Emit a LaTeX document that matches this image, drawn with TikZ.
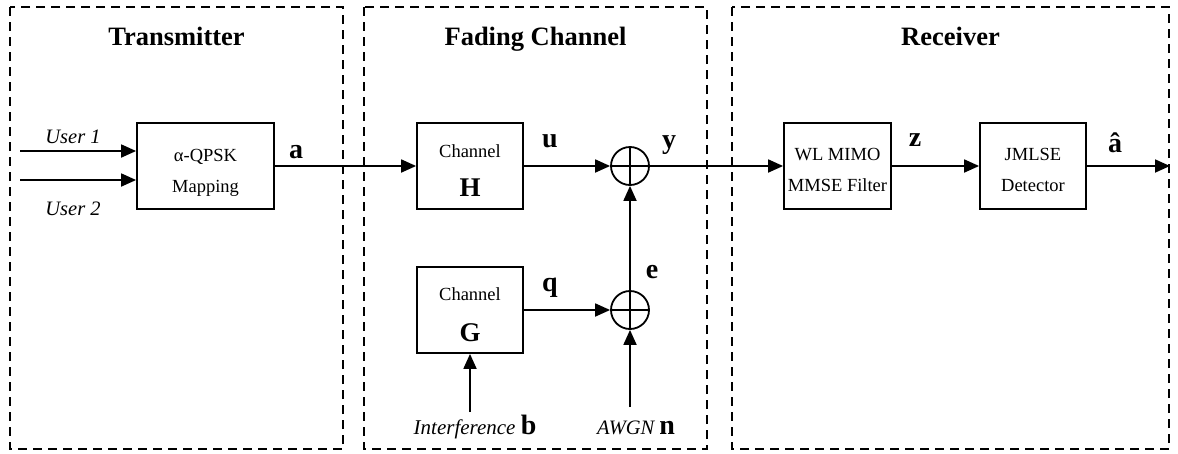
\documentclass[tikz,border=0pt]{standalone}
\usepackage{fontspec}
\setmainfont{Liberation Serif}
\usetikzlibrary{arrows.meta}
\tikzset{
  region/.style={draw, line width=2.4pt, dash pattern=on 9pt off 6pt},
  blk/.style={draw, line width=1.8pt, rectangle, inner sep=0pt},
  summer/.style={draw, line width=1.8pt, circle, minimum size=38pt, inner sep=0pt},
  conn/.style={line width=1.8pt, -{Triangle[length=15pt,width=13pt]}},
  ttl/.style={anchor=base, font=\fontsize{26.5}{30}\selectfont\bfseries, inner sep=0pt},
  btxt/.style={anchor=base, font=\fontsize{18.5}{22}\selectfont, inner sep=0pt},
  bsym/.style={anchor=base, font=\fontsize{27}{30}\selectfont\bfseries, inner sep=0pt},
  vlab/.style={anchor=base, font=\fontsize{28}{30}\selectfont\bfseries, inner sep=0pt},
  ilab/.style={anchor=base, font=\fontsize{20.5}{24}\selectfont\itshape, inner sep=0pt},
}
\begin{document}
\begin{tikzpicture}[x=1pt, y=-1pt]
\useasboundingbox (0,0) rectangle (1178,453);
% regions
\draw[region] (10,7) rectangle (343,449);
\draw[region] (364,7) rectangle (707,449);
\draw[region] (732,7) rectangle (1169,449);
\node[ttl] (t1) at (176.5,45) {Transmitter};
\node[ttl] (t2) at (535.5,45) {Fading Channel};
\node[ttl] (t3) at (950.5,45) {Receiver};
% blocks
\node[blk, minimum width=137pt, minimum height=86pt] (map) at (205.5,166) {};
\node[blk, minimum width=106pt, minimum height=86pt] (H) at (470,166) {};
\node[blk, minimum width=106pt, minimum height=86pt] (G) at (470,310) {};
\node[blk, minimum width=107pt, minimum height=86pt] (wl) at (837.5,166) {};
\node[blk, minimum width=106pt, minimum height=86pt] (jm) at (1033,166) {};
\node[summer] (s1) at (630,166) {};
\node[summer] (s2) at (630,310) {};
\draw[line width=1.8pt] (s1.north) -- (s1.south) (s1.west) -- (s1.east);
\draw[line width=1.8pt] (s2.north) -- (s2.south) (s2.west) -- (s2.east);
% block texts
\node[btxt] (mapA) at (205.5,161) {α-QPSK};
\node[btxt] (mapB) at (205.5,192) {Mapping};
\node[btxt] (hA) at (470,157) {Channel};
\node[bsym] (hB) at (470,196) {H};
\node[btxt] (gA) at (470,300) {Channel};
\node[bsym] (gB) at (470,341) {G};
\node[btxt] (wlA) at (837.5,160) {WL MIMO};
\node[btxt] (wlB) at (837.5,191) {MMSE Filter};
\node[btxt] (jmA) at (1033,160) {JMLSE};
\node[btxt] (jmB) at (1033,191) {Detector};
% free ends
\coordinate (u1) at (20,151);
\coordinate (u2) at (20,180);
\coordinate (ib) at (470,412);
\coordinate (an) at (630,407);
\coordinate (out) at (1170,166);
% connectors
\draw[conn] (u1) -- (u1 -| map.west);
\draw[conn] (u2) -- (u2 -| map.west);
\draw[conn] (map.east) -- (H.west);
\draw[conn] (H.east) -- (s1.west);
\draw[conn] (G.east) -- (s2.west);
\draw[conn] (s2.north) -- (s1.south);
\draw[conn] (ib) -- (G.south);
\draw[conn] (an) -- (s2.south);
\draw[conn] (s1.east) -- (wl.west);
\draw[conn] (wl.east) -- (jm.west);
\draw[conn] (jm.east) -- (out);
% labels
\node[ilab] (lu1) at (73,143) {User 1};
\node[ilab] (lu2) at (73,215) {User 2};
\node[vlab] (la) at (296,158) {a};
\node[vlab] (lu) at (550,147) {u};
\node[vlab] (ly) at (669,148) {y};
\node[vlab] (le) at (652,278) {e};
\node[vlab] (lq) at (550,291) {q};
\node[vlab] (lz) at (915,146) {z};
\node[vlab] (lah) at (1115,152) {â};
\node[anchor=base, inner sep=0pt] (lb) at (475,434) {\fontsize{21}{24}\selectfont\itshape Interference \fontsize{28}{30}\selectfont\upshape\bfseries b};
\node[anchor=base, inner sep=0pt] (ln) at (636,434) {\fontsize{20.5}{24}\selectfont\itshape AWGN \fontsize{28}{30}\selectfont\upshape\bfseries n};
\end{tikzpicture}
\end{document}
